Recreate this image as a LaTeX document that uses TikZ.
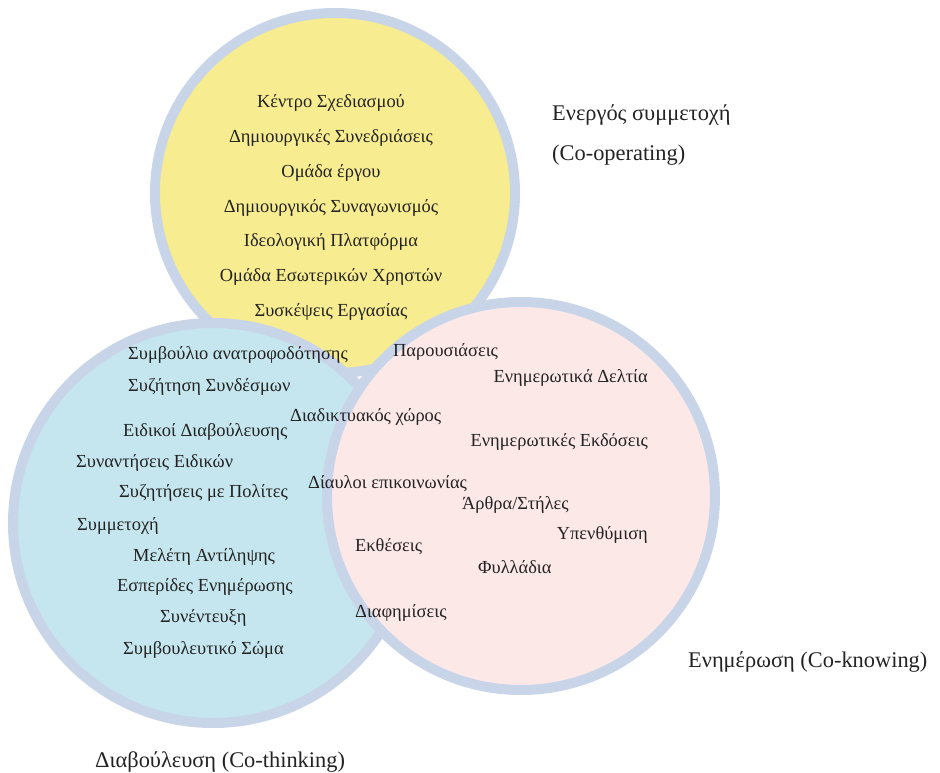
\documentclass[tikz,border=0pt]{standalone}
\usepackage{fontspec}
\setmainfont{Liberation Serif}
\definecolor{ringc}{RGB}{200,212,232}
\definecolor{yelc}{RGB}{247,236,143}
\definecolor{bluc}{RGB}{197,230,238}
\definecolor{pinc}{RGB}{253,232,232}
\definecolor{txtc}{RGB}{35,35,35}
\tikzset{
  venn/.style={draw=ringc, line width=10pt},
  item/.style={inner sep=0pt, text=txtc, font=\fontsize{18.4}{19}\selectfont},
  itemL/.style={item, anchor=west},
  itemR/.style={item, anchor=east},
  biglab/.style={inner sep=0pt, text=txtc, font=\fontsize{22.4}{23}\selectfont},
}
\begin{document}
\begin{tikzpicture}[x=1pt,y=-1pt]
\useasboundingbox (0,0) rectangle (940,773);
% circles
\path[venn, fill=yelc] (335,193) circle[radius=180];
\path[venn, fill=bluc] (213,523) circle[radius=200];
\path[venn, fill=pinc] (521,496) circle[radius=194];
% yellow items
\node[item] (y1) at (331,103) {Κέντρο Σχεδιασμού};
\node[item] (y2) at (331,138) {Δημιουργικές Συνεδριάσεις};
\node[item] (y3) at (331,173) {Ομάδα έργου};
\node[item] (y4) at (331,208) {Δημιουργικός Συναγωνισμός};
\node[item] (y5) at (331,242) {Ιδεολογική Πλατφόρμα};
\node[item] (y6) at (331,277) {Ομάδα Εσωτερικών Χρηστών};
\node[item] (y7) at (331,312) {Συσκέψεις Εργασίας};
% blue items
\node[itemL] (b1) at (128,355) {Συμβούλιο ανατροφοδότησης};
\node[itemL] (b2) at (128,387) {Συζήτηση Συνδέσμων};
\node[itemL] (b3) at (123,432) {Ειδικοί Διαβούλευσης};
\node[itemL] (b4) at (76,463) {Συναντήσεις Ειδικών};
\node[itemL] (b5) at (119,493) {Συζητήσεις με Πολίτες};
\node[itemL] (b6) at (77,526) {Συμμετοχή};
\node[itemL] (b7) at (133,557) {Μελέτη Αντίληψης};
\node[itemL] (b8) at (117,587) {Εσπερίδες Ενημέρωσης};
\node[itemL] (b9) at (160,618) {Συνέντευξη};
\node[itemL] (b10) at (123,650) {Συμβουλευτικό Σώμα};
% middle / pink items
\node[itemL] (m1) at (290,417) {Διαδικτυακός χώρος};
\node[itemL] (m2) at (308,484) {Δίαυλοι επικοινωνίας};
\node[itemL] (p1) at (393,352) {Παρουσιάσεις};
\node[itemR] (p2) at (648,378) {Ενημερωτικά Δελτία};
\node[itemR] (p3) at (648,442) {Ενημερωτικές Εκδόσεις};
\node[itemL] (p4) at (462,505) {Άρθρα/Στήλες};
\node[itemR] (p5) at (648,535) {Υπενθύμιση};
\node[itemL] (p6) at (355,547) {Εκθέσεις};
\node[itemL] (p7) at (478,567) {Φυλλάδια};
\node[itemL] (p8) at (355,613) {Διαφημίσεις};
% circle labels
\node[biglab, anchor=west] (l1) at (552,115) {Ενεργός συμμετοχή};
\node[biglab, anchor=west] (l2) at (552,155) {(Co-operating)};
\node[biglab, anchor=west] (l3) at (688,662) {Ενημέρωση (Co-knowing)};
\node[biglab, anchor=west] (l4) at (95,762) {Διαβούλευση (Co-thinking)};
\end{tikzpicture}
\end{document}
